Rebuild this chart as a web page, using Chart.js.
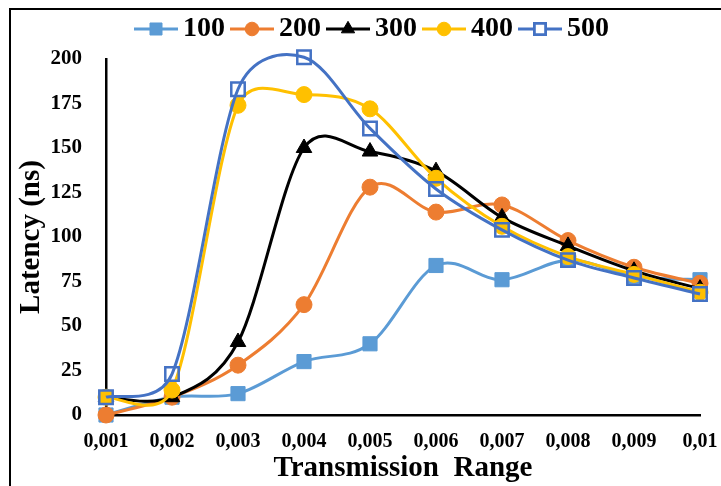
<!DOCTYPE html>
<html>
<head>
<meta charset="utf-8">
<script src="https://cdn.jsdelivr.net/npm/chart.js@4/dist/chart.umd.min.js"></script>
<style>
  html, body { margin: 0; padding: 0; background: #fff; }
  #wrap { position: relative; width: 721px; height: 486px; overflow: hidden; }
  #frame { position: absolute; left: 9px; top: 8px; width: 730px; height: 500px;
           border-left: 2px solid #000; border-top: 2px solid #000; }
  canvas { position: absolute; left: 0; top: 0; }
</style>
</head>
<body>
<div id="wrap">
  <div id="frame"></div>
  <canvas id="chart" width="721" height="486"></canvas>
</div>
<script>
// x categories and one array per series
const ranges = ['0,001', '0,002', '0,003', '0,004', '0,005', '0,006', '0,007', '0,008', '0,009', '0,01'];

const lat100 = [0, 10, 12, 30, 40, 84, 76, 87, 78, 76];
const lat200 = [0, 10, 28, 62, 128, 114, 118, 98, 83, 74];
const lat300 = [10, 10, 41, 150, 148, 137, 111, 95, 81, 71];
const lat400 = [10, 14, 174, 180, 172, 133, 106, 89, 79, 69];
const lat500 = [10, 23, 183, 201, 161, 127, 104, 87, 77, 68];

const yTicks = { min: 0, max: 200, step: 25 };

const FONT = "'Liberation Serif', 'Times New Roman', serif";

const series = [
  { label: '100', data: lat100, color: '#5B9BD5', style: 'rect', radius: 10, fill: true },
  { label: '200', data: lat200, color: '#ED7D31', style: 'circle', radius: 8, fill: true },
  { label: '300', data: lat300, color: '#000000', style: 'triangle', radius: 9, fill: true },
  { label: '400', data: lat400, color: '#FFC000', style: 'circle', radius: 8, fill: true },
  { label: '500', data: lat500, color: '#4472C4', style: 'rect', radius: 9.5, fill: false }
];

// little line + marker swatches for the legend
function legendIcon(s) {
  const c = document.createElement('canvas');
  c.width = 44; c.height = 22;
  const ctx = c.getContext('2d');
  ctx.strokeStyle = s.color;
  ctx.lineWidth = 3;
  ctx.beginPath();
  ctx.moveTo(0, 11); ctx.lineTo(44, 11);
  ctx.stroke();
  ctx.fillStyle = s.fill ? s.color : '#fff';
  ctx.lineWidth = s.fill ? 1 : 2.5;
  Chart.helpers.drawPoint(ctx, { pointStyle: s.style, radius: s.radius * 0.85, rotation: 0, borderWidth: ctx.lineWidth }, 22, 11);
  if (!s.fill) ctx.stroke();
  return c;
}

const icons = series.map(legendIcon);

// nudge the legend row to where the original sits
const legendShift = {
  id: 'legendShift',
  afterLayout(chart) {
    const lg = chart.legend;
    lg.left += 21; lg.right += 21;
    lg.top -= 6; lg.bottom -= 6;
  }
};

// spreadsheet-style smoothing: tangent = (next - prev) / 6,
// arm capped at half of the neighbouring segment
const excelSmooth = {
  id: 'excelSmooth',
  beforeDatasetDraw(chart, args) {
    const pts = args.meta.data;
    for (let i = 0; i < pts.length; i++) {
      const p = pts[i];
      const prev = pts[i - 1] || p;
      const next = pts[i + 1] || p;
      const tx = (next.x - prev.x) / 6, ty = (next.y - prev.y) / 6;
      const len = Math.hypot(tx, ty) || 1;
      const kPrev = Math.min(1, Math.hypot(p.x - prev.x, p.y - prev.y) * 0.5 / len);
      const kNext = Math.min(1, Math.hypot(next.x - p.x, next.y - p.y) * 0.5 / len);
      p.cp1x = p.x - tx * kPrev; p.cp1y = p.y - ty * kPrev;
      p.cp2x = p.x + tx * kNext; p.cp2y = p.y + ty * kNext;
    }
    args.meta.dataset._pointsUpdated = true;
  }
};

const datasets = series.map((s, i) => ({
  label: s.label,
  data: s.data,
  borderColor: s.color,
  backgroundColor: s.fill ? s.color : 'rgba(0,0,0,0)',
  pointBackgroundColor: s.fill ? s.color : 'rgba(0,0,0,0)',
  pointBorderColor: s.color,
  pointBorderWidth: s.fill ? 1 : 2.5,
  pointStyle: s.style,
  pointRadius: s.radius,
  borderWidth: 3,
  tension: 0.4,
  capBezierPoints: false,
  clip: false,
  order: series.length - i
}));

new Chart(document.getElementById('chart'), {
  type: 'line',
  data: { labels: ranges, datasets: datasets },
  plugins: [legendShift, excelSmooth],
  options: {
    responsive: false,
    animation: false,
    layout: { padding: { left: 10, right: 21, top: 7, bottom: 0 } },
    plugins: {
      tooltip: { enabled: false },
      legend: {
        position: 'top',
        labels: {
          usePointStyle: true,
          pointStyleWidth: 26,
          padding: 14,
          color: '#000',
          font: { family: FONT, size: 28, weight: 'bold' },
          sort: (a, b) => a.datasetIndex - b.datasetIndex,
          generateLabels: chart => {
            const items = Chart.defaults.plugins.legend.labels.generateLabels(chart);
            items.forEach(it => { it.pointStyle = icons[it.datasetIndex]; });
            return items;
          }
        }
      }
    },
    scales: {
      x: {
        type: 'category',
        offset: false,
        grid: { display: false, drawTicks: false },
        border: { display: true, color: '#000', width: 2.5 },
        ticks: { color: '#000', padding: 15, maxRotation: 0, font: { family: FONT, size: 20, weight: 'bold' } },
        title: { display: true, text: 'Transmission  Range', color: '#000', padding: { top: 0, bottom: 0 },
                 font: { family: FONT, size: 29, weight: 'bold' } },
        afterFit: scale => { scale.height = 71; scale.paddingRight = 0; scale.paddingLeft = 0; }
      },
      y: {
        min: yTicks.min,
        max: yTicks.max,
        grid: { display: false, drawTicks: false },
        border: { display: true, color: '#000', width: 2.5 },
        ticks: { stepSize: yTicks.step, color: '#000', padding: 24, font: { family: FONT, size: 21, weight: 'bold' } },
        title: { display: true, text: 'Latency (ns)', color: '#000', padding: { top: 4, bottom: 0 },
                 font: { family: FONT, size: 29, weight: 'bold' } },
        afterFit: scale => { scale.width = 96; }
      }
    }
  }
});
</script>
</body>
</html>
